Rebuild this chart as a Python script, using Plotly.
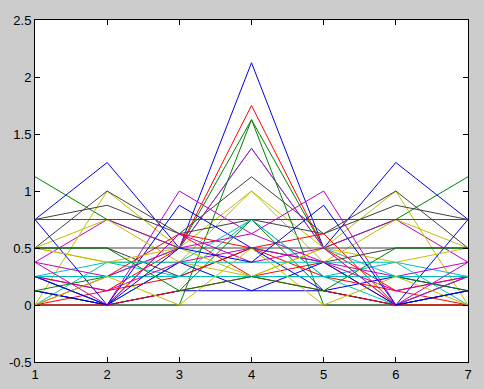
import plotly.graph_objects as go

x_values = [1, 2, 3, 4, 5, 6, 7]

# series values (one list per line), drawn in MATLAB colour-order sequence
series = [
    [0.75, 1.25, 0.5, 2.125, 0.5, 1.25, 0.75],
    [1.125, 0.75, 0.5, 1.625, 0.5, 0.75, 1.125],
    [0, 0.125, 0.5, 1.75, 0.5, 0.125, 0],
    [0.25, 0.25, 0.5, 1.375, 0.5, 0.25, 0.25],
    [0.375, 0.75, 0.5, 1.375, 0.5, 0.75, 0.375],
    [0, 1.0, 0.5, 1.0, 0.5, 1.0, 0],
    [0.5, 1.0, 0.625, 1.125, 0.625, 1.0, 0.5],

    [0.75, 0.75, 0.75, 0.75, 0.75, 0.75, 0.75],
    [0.125, 0, 0, 1.625, 0, 0, 0.125],
    [0.25, 0, 0.625, 0.5, 0.625, 0, 0.25],
    [0.25, 0.375, 0.25, 0.75, 0.25, 0.375, 0.25],
    [0.25, 0, 1.0, 0.625, 0.375, 0.25, 0.375],
    [0.5, 0.75, 0.375, 1.0, 0.375, 0.75, 0.5],
    [0.75, 0.875, 0.625, 0.75, 0.625, 0.875, 0.75],

    [0.125, 0, 0.875, 0.5, 0.125, 0.25, 0.125],
    [0, 0, 0.125, 0.75, 0.125, 0, 0],
    [0, 0.25, 0.625, 0.25, 0.375, 0, 0],
    [0.25, 0, 0.375, 0.75, 0.25, 0, 0.25],
    [0.375, 0.25, 0.5, 0.625, 1.0, 0, 0.25],
    [0.5, 0.375, 0.375, 0.25, 0.5, 0, 0],
    [0.5, 0.5, 0.25, 0.5, 0.375, 0.5, 0.5],

    [0.75, 0, 0.375, 0.125, 0.375, 0, 0.75],
    [0.75, 0.75, 0.75, 0.75, 0.75, 0.75, 0.75],
    [0.25, 0.125, 0.25, 0.5, 0.25, 0.125, 0.25],
    [0, 0.375, 0.375, 0.375, 0.375, 0.375, 0],
    [0.25, 0.125, 0.375, 0.5, 0.375, 0.125, 0.25],
    [0.5, 0.375, 0.5, 0.25, 0.5, 0.375, 0.5],
    [0, 0, 0, 0, 0, 0, 0],

    [0.125, 0, 0.125, 0.125, 0.125, 0, 0.125],
    [0.125, 0.25, 0.25, 0.25, 0.25, 0.25, 0.125],
    [0, 0, 0.125, 0.25, 0.125, 0, 0],
    [0.25, 0.25, 0.25, 0.25, 0.25, 0.25, 0.25],
    [0.375, 0, 0.625, 0.375, 0.5, 0, 0.375],
    [0, 0.25, 0, 0.5, 0, 0.25, 0],
    [0.5, 0.5, 0.5, 0.5, 0.5, 0.5, 0.5],

    [0.25, 0, 0.5, 0.375, 0.875, 0, 0.125],
    [0.5, 0.5, 0.125, 0.25, 0.125, 0.5, 0.5],
]

y_tick_vals = [-0.5, 0, 0.5, 1, 1.5, 2, 2.5]
y_tick_text = ["-0.5", "0", "0.5", "1", "1.5", "2", "2.5"]
x_tick_vals = [1, 2, 3, 4, 5, 6, 7]
x_tick_text = ["1", "2", "3", "4", "5", "6", "7"]

color_order = ["#0000e0", "#008000", "#ff0000", "#00bfbf", "#bf00bf", "#bfbf00", "#404040"]

fig = go.Figure()
for i, ys in enumerate(series):
    fig.add_trace(go.Scatter(
        x=x_values, y=ys, mode="lines",
        line=dict(color=color_order[i % len(color_order)], width=1),
        showlegend=False, hoverinfo="skip",
    ))

axis_common = dict(
    showgrid=False, zeroline=False, automargin=False,
    showline=True, linecolor="black", linewidth=1, mirror="ticks",
    ticks="inside", ticklen=5, tickcolor="black", tickwidth=1,
    tickfont=dict(family="Liberation Sans, Arial", size=13, color="black"),
)

fig.update_layout(
    width=484, height=389,
    margin=dict(l=35, r=16, t=20, b=27),
    paper_bgcolor="#cccccc", plot_bgcolor="white",
    xaxis=dict(range=[1, 7], tickvals=x_tick_vals, ticktext=x_tick_text, **axis_common),
    yaxis=dict(range=[-0.5, 2.5], tickvals=y_tick_vals, ticktext=y_tick_text,
               ticklabelstandoff=0, **axis_common),
)

fig.write_html("out.html")
